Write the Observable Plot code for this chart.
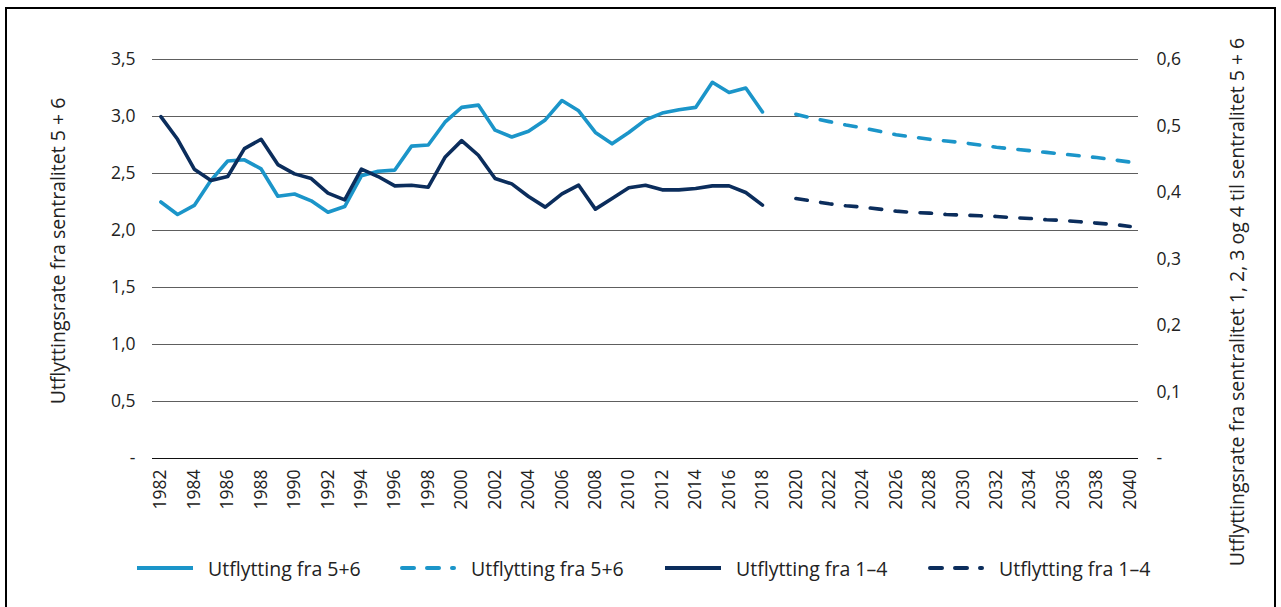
<!DOCTYPE html>
<html><head><meta charset="utf-8">
<script src="https://cdn.jsdelivr.net/npm/d3@7"></script>
<script src="https://cdn.jsdelivr.net/npm/@observablehq/plot@0.6"></script>
<style>
body{margin:0;background:#fff;font-family:"Open Sans",sans-serif;color:#222;}
#wrap{position:relative;width:1281px;height:607px;overflow:hidden;background:#fff;}
#frame{position:absolute;left:5px;top:7px;width:1271px;height:640px;border:2.5px solid #000;box-sizing:border-box;}
#chart{position:absolute;left:0;top:0;}
.ytitle{position:absolute;white-space:nowrap;font-size:19.5px;color:#222;transform:translate(-50%,-50%) rotate(-90deg);}
.leg{position:absolute;top:556px;height:24px;display:flex;align-items:center;font-size:19.5px;color:#222;white-space:nowrap;}
.leg svg{margin-right:15px;}
</style></head>
<body>
<div id="wrap">
  <div id="frame"></div>
  <div id="chart"></div>
  <div class="ytitle" style="left:57px;top:251px;">Utflyttingsrate fra sentralitet 5 + 6</div>
  <div class="ytitle" style="left:1236px;top:302px;">Utflyttingsrate fra sentralitet 1, 2, 3 og 4 til sentralitet 5 + 6</div>
  <div id="legend"></div>
</div>
<script>
// ---- data ----
const years = d3.range(1982, 2019);
const share56 = [2.25,2.14,2.22,2.44,2.61,2.62,2.54,2.30,2.32,2.26,2.16,2.21,2.48,2.52,2.53,2.74,2.75,
  2.95,3.08,3.10,2.88,2.82,2.87,2.97,3.14,3.05,2.86,2.76,2.86,2.97,3.03,3.06,3.08,3.30,3.21,3.25,3.04];
const share14 = [0.514,0.480,0.435,0.418,0.424,0.466,0.480,0.442,0.428,0.421,0.399,0.389,0.435,0.424,0.410,0.411,0.408,
  0.453,0.478,0.456,0.421,0.413,0.394,0.378,0.398,0.411,0.375,0.391,0.407,0.411,0.404,0.404,0.406,0.410,0.410,0.400,0.381];
const projYears = d3.range(2020, 2041);
const proj56 = [3.02,2.985,2.955,2.925,2.90,2.87,2.84,2.82,2.80,2.785,2.77,2.75,2.73,2.715,2.70,2.685,2.67,2.655,2.64,2.62,2.60];
const proj14 = [0.391,0.387,0.383,0.380,0.378,0.375,0.372,0.370,0.369,0.367,0.366,0.365,0.364,0.362,0.361,0.359,0.358,0.356,0.354,0.352,0.349];
const leftTicks = [0,0.5,1,1.5,2,2.5,3,3.5];
const rightTicks = [0,0.1,0.2,0.3,0.4,0.5,0.6];
const xTicks = d3.range(1982, 2041, 2);
const seriesNames = ["Utflytting fra 5+6","Utflytting fra 5+6","Utflytting fra 1–4","Utflytting fra 1–4"];

// ---- styles ----
const LIGHT = "#1b95c9", DARK = "#0b2d5c";
const k = 3.5 / 0.6; // right axis -> left axis units
const fmt = v => Math.abs(v) < 1e-9 ? "-" : v.toFixed(1).replace(".", ",");

const hist56 = years.map((y, i) => ({year: y, v: share56[i]}));
const hist14 = years.map((y, i) => ({year: y, v: share14[i] * k}));
const p56 = projYears.map((y, i) => ({year: y, v: proj56[i]}));
const p14 = projYears.map((y, i) => ({year: y, v: proj14[i] * k}));

const chart = Plot.plot({
  width: 1281,
  height: 540,
  marginTop: 59,
  marginBottom: 82,
  marginLeft: 152,
  marginRight: 143,
  style: {fontFamily: "'Open Sans', sans-serif", fontSize: "17.5px", color: "#222", background: "transparent"},
  x: {domain: [1981.5, 2040.5]},
  y: {domain: [0, 3.5]},
  marks: [
    Plot.ruleY(leftTicks.filter(v => v > 0), {stroke: "#5e5e5e", strokeWidth: 1}),
    Plot.ruleY([0], {stroke: "#111", strokeWidth: 1.2}),
    Plot.axisY({anchor: "left", ticks: leftTicks, tickFormat: fmt, tickSize: 0, tickPadding: 17, fontSize: 17.5, label: null}),
    Plot.axisY({anchor: "right", ticks: rightTicks.map(v => v * k), tickFormat: v => fmt(v / k), tickSize: 0, tickPadding: 18, fontSize: 17.5, label: null}),
    Plot.axisX({ticks: xTicks, tickFormat: d => String(d), tickRotate: -90, tickSize: 0, tickPadding: 11, fontSize: 17.5, label: null}),
    Plot.lineY(hist56, {x: "year", y: "v", stroke: LIGHT, strokeWidth: 3.6, strokeLinejoin: "round"}),
    Plot.lineY(hist14, {x: "year", y: "v", stroke: DARK, strokeWidth: 3.6, strokeLinejoin: "round"}),
    Plot.lineY(p56, {x: "year", y: "v", stroke: LIGHT, strokeWidth: 3.6, strokeDasharray: "11.5,13.5", strokeLinecap: "round"}),
    Plot.lineY(p14, {x: "year", y: "v", stroke: DARK, strokeWidth: 3.6, strokeDasharray: "11.5,13.5", strokeLinecap: "round"})
  ]
});
document.getElementById("chart").appendChild(chart);

// ---- legend ----
const legItems = [
  {name: seriesNames[0], color: LIGHT, dash: null, left: 137},
  {name: seriesNames[1], color: LIGHT, dash: "12,13", left: 400},
  {name: seriesNames[2], color: DARK, dash: null, left: 665},
  {name: seriesNames[3], color: DARK, dash: "12,13", left: 928}
];
const legend = document.getElementById("legend");
for (const it of legItems) {
  const div = document.createElement("div");
  div.className = "leg";
  div.style.left = it.left + "px";
  const w = 56;
  div.innerHTML = `<svg width="${w}" height="10"><line x1="${it.dash ? 2 : 0}" x2="${it.dash ? w - 2 : w}" y1="5" y2="5" stroke="${it.color}" stroke-width="4" ${it.dash ? `stroke-dasharray="${it.dash}" stroke-linecap="round"` : ""}/></svg><span>${it.name}</span>`;
  legend.appendChild(div);
}
</script>
</body></html>
